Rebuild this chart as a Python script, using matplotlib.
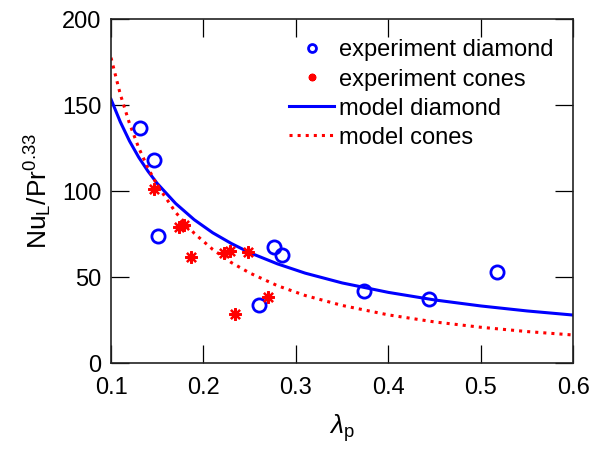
import numpy as np
import matplotlib
matplotlib.use("Agg")
from matplotlib import pyplot as plt

plt.rcParams['font.family'] = ['Liberation Sans', 'DejaVu Sans']
plt.rcParams['mathtext.fontset'] = 'custom'
plt.rcParams['mathtext.rm'] = 'Liberation Sans'
plt.rcParams['mathtext.it'] = 'Liberation Sans:italic'

# experiment data
lam_diamond = [0.131, 0.146, 0.151, 0.260, 0.276, 0.285, 0.374, 0.444, 0.517]
nu_diamond = [136.5, 118.0, 74.0, 33.7, 67.6, 62.8, 41.9, 37.0, 52.7]

lam_cones = [0.147, 0.174, 0.179, 0.186, 0.222, 0.229, 0.234, 0.248, 0.270]
nu_cones = [101.3, 78.9, 80.2, 61.8, 63.8, 65.3, 28.5, 64.7, 38.5]

# model curves
lam_model = [0.10, 0.11, 0.12, 0.13, 0.14, 0.15, 0.17, 0.19, 0.21, 0.23,
             0.25, 0.28, 0.31, 0.35, 0.40, 0.45, 0.50, 0.55, 0.60]
nu_model_diamond = [153.5, 140.4, 129.2, 119.7, 111.6, 104.5, 92.8, 83.4, 75.8, 69.6,
                    64.2, 57.7, 52.3, 46.6, 41.1, 36.7, 33.2, 30.3, 27.9]
nu_model_cones = [177.7, 156.5, 139.4, 125.2, 113.5, 103.5, 87.6, 75.5, 66.1, 58.5,
                  52.4, 45.0, 39.3, 33.5, 28.0, 23.9, 20.8, 18.3, 16.3]

fig = plt.figure(figsize=(5.92, 4.5), dpi=100)
ax = fig.add_axes([0.1875, 0.1933, 0.781, 0.7637])

ax.plot(lam_diamond, nu_diamond, 'o', color='#0000ff', mfc='none', ms=9.5, mew=2.0,
        label='experiment diamond', zorder=4)
ax.plot(lam_cones, nu_cones, ls='none', marker=(8, 2, 0), color='#ff0000', ms=9, mew=1.6,
        label='experiment cones', zorder=4)
ax.plot(lam_model, nu_model_diamond, '-', color='#0000ff', lw=2.2, label='model diamond')
ax.plot(lam_model, nu_model_cones, ':', color='#ff0000', lw=2.2, label='model cones')

ax.set_xlim(0.1, 0.6)
ax.set_ylim(0, 200)
ax.set_xticks([0.1, 0.2, 0.3, 0.4, 0.5, 0.6])
ax.set_yticks([0, 50, 100, 150, 200])
ax.tick_params(direction='in', length=13, width=0.9, top=True, right=True,
               labelsize=17)
ax.tick_params(axis='x', pad=10)
ax.tick_params(axis='y', pad=7)
for s in ax.spines.values():
    s.set_linewidth(1.2)
    s.set_color('#222222')

ax.set_xlabel(r'$\lambda_\mathrm{p}$', fontsize=19, labelpad=10)
ax.set_ylabel(r'Nu$_\mathrm{L}$/Pr$^{0.33}$', fontsize=19, labelpad=6)

leg = ax.legend(loc='upper right', frameon=False, fontsize=17, markerscale=0.6,
                handlelength=1.9, handletextpad=0.2, labelspacing=0.3,
                borderaxespad=0.45, borderpad=0.4)

fig.savefig('out.png', dpi=100)
